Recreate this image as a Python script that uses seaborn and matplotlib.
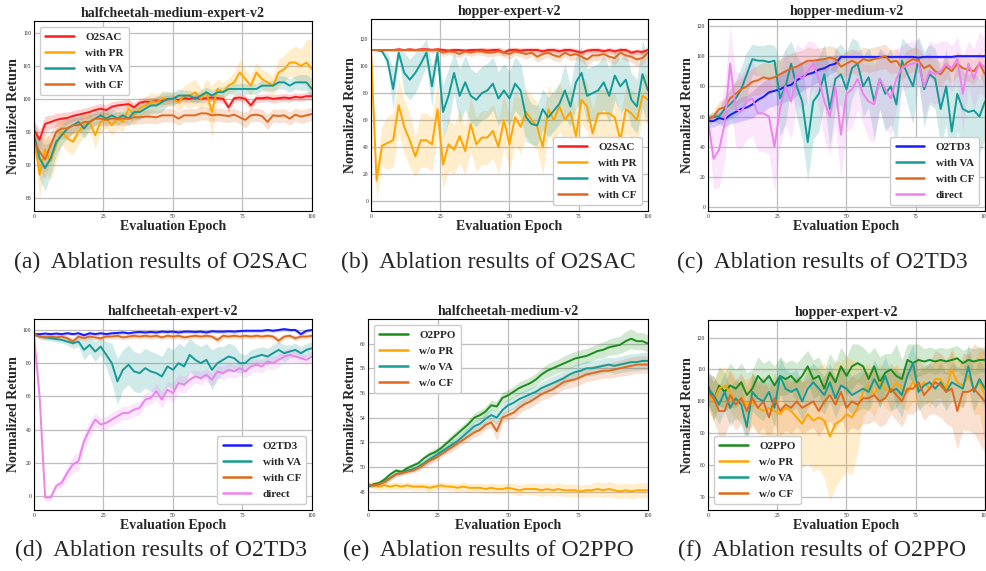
import numpy as np
import matplotlib
matplotlib.use("Agg")
import matplotlib.pyplot as plt
import seaborn as sns

# evaluation epochs (every 2nd epoch)
epochs = np.arange(0, 101, 2)

# ---------------- (a) halfcheetah-medium-expert-v2 ----------------
a_sac = [95.3, 93.8, 96.2, 96.5, 96.8, 97.0, 97.1, 97.4, 97.6, 97.8,
         98.0, 98.3, 98.5, 98.3, 98.8, 99.0, 99.1, 99.2, 98.7, 99.4,
         99.6, 99.5, 99.7, 99.8, 99.9, 100.0, 99.8, 100.1, 100.0, 100.2,
         100.0, 100.1, 100.2, 100.1, 100.0, 98.7, 100.1, 100.2, 100.0, 99.0,
         100.1, 100.1, 100.2, 100.0, 100.1, 100.2, 100.1, 100.3, 100.2, 100.4,
         100.4]
a_pr = [95.0, 88.5, 92.3, 90.5, 93.0, 95.0, 94.0, 93.5, 95.0, 96.0,
        96.5, 94.5, 96.5, 97.0, 96.0, 97.0, 96.5, 98.5, 97.5, 98.5,
        99.0, 99.5, 99.5, 100.0, 100.0, 100.0, 99.5, 100.5, 100.5, 101.0,
        100.0, 101.0, 98.0, 101.5, 101.0, 102.0, 102.5, 104.0, 103.0, 102.0,
        104.0, 103.0, 102.5, 102.0, 104.0, 104.5, 105.5, 105.5, 105.0, 105.5,
        104.5]
a_va = [94.5, 91.0, 89.5, 91.0, 93.5, 94.5, 95.5, 96.0, 96.5, 95.5,
        96.5, 97.0, 97.5, 97.0, 97.5, 97.0, 97.5, 97.0, 98.0, 98.0,
        98.5, 99.0, 99.0, 99.5, 100.0, 100.0, 100.5, 100.5, 100.5, 100.0,
        100.5, 101.0, 100.5, 101.0, 101.0, 101.5, 101.5, 101.5, 101.5, 101.5,
        101.5, 102.0, 102.0, 102.0, 102.5, 102.5, 102.0, 102.5, 102.5, 102.5,
        101.5]
a_cf = [93.5, 92.0, 90.8, 93.0, 95.0, 95.5, 95.5, 96.0, 96.0, 96.5,
        96.5, 97.0, 97.0, 96.8, 97.0, 97.0, 97.0, 97.0, 97.2, 97.2,
        97.3, 97.3, 97.2, 97.5, 97.5, 97.5, 97.0, 97.5, 97.5, 97.5,
        97.8, 97.8, 97.5, 97.6, 97.5, 97.4, 97.6, 97.2, 96.8, 97.5,
        97.6, 97.4, 96.5, 97.5, 97.4, 97.5, 97.0, 97.6, 97.3, 97.5,
        97.7]
a_sac_sd = [1.5, 1.5, 1.2, 1.0, 1.0, 0.9, 0.9, 0.8, 0.8, 0.8,
            0.8, 0.8, 0.8, 0.8, 0.8, 0.7, 0.7, 0.7, 0.7, 0.7,
            0.7, 0.7, 0.7, 0.7, 0.7, 0.6, 0.6, 0.6, 0.6, 0.6,
            0.6, 0.6, 0.6, 0.6, 0.6, 0.7, 0.6, 0.6, 0.6, 0.7,
            0.6, 0.6, 0.6, 0.6, 0.6, 0.6, 0.6, 0.6, 0.6, 0.6,
            0.6]
a_pr_sd = [1.5, 3.5, 3.0, 3.0, 2.5, 2.0, 2.0, 2.0, 1.8, 1.8,
           1.5, 2.0, 1.5, 1.5, 1.5, 1.5, 1.5, 1.5, 1.5, 1.2,
           1.2, 1.5, 1.2, 1.2, 1.2, 1.0, 1.5, 1.5, 2.0, 2.0,
           1.5, 2.0, 4.0, 1.5, 1.5, 1.2, 1.5, 2.0, 1.5, 1.5,
           1.5, 1.5, 1.5, 1.5, 2.0, 2.0, 2.0, 2.5, 2.5, 3.5,
           4.5]
a_va_sd = [2.0, 3.0, 3.5, 2.5, 2.0, 1.5, 1.5, 1.2, 1.2, 1.5,
           1.2, 1.0, 1.0, 1.0, 1.0, 1.0, 1.0, 1.0, 1.2, 1.2,
           1.2, 1.2, 1.2, 1.5, 1.0, 1.0, 1.0, 0.8, 0.8, 0.8,
           0.8, 0.8, 0.8, 0.8, 0.8, 0.8, 0.8, 0.8, 0.8, 0.8,
           0.8, 0.8, 0.8, 0.8, 1.0, 1.0, 1.0, 1.0, 1.2, 1.2,
           1.5]
a_cf_sd = [2.0, 2.5, 3.0, 2.0, 1.5, 1.5, 1.5, 1.2, 1.2, 1.2,
           1.0, 1.0, 1.0, 1.0, 1.0, 1.0, 1.0, 1.0, 1.0, 1.0,
           1.0, 1.0, 1.0, 1.0, 1.0, 1.0, 1.0, 1.0, 1.0, 1.0,
           1.0, 1.0, 1.0, 1.0, 1.0, 1.0, 1.0, 1.0, 1.2, 1.0,
           1.0, 1.0, 1.2, 1.0, 1.0, 1.0, 1.0, 1.0, 1.0, 1.0,
           1.0]

# ---------------- (b) hopper-expert-v2 ----------------
b_sac = [112, 112, 112, 112, 112, 112.5, 112, 112.5, 112, 112.5,
         112.5, 112, 112.5, 112, 111.5, 112, 112, 111.5, 112, 112,
         112, 111.5, 112, 112, 110, 112, 112, 111.5, 112, 112,
         112, 111, 112, 112, 111, 112, 112, 111, 110, 111.5,
         112, 112, 111, 112, 111, 112, 112, 110, 111, 110.5,
         112]
b_pr = [112, 15, 41, 43, 45, 71, 55, 45, 33, 45,
        45, 42, 68, 27, 42, 38, 48, 37, 57, 42,
        47, 47, 52, 40, 60, 42, 62, 55, 66, 60,
        55, 40, 68, 60, 70, 60, 66, 48, 75, 70,
        50, 65, 65, 65, 62, 45, 68, 65, 60, 78,
        75]
b_va = [112, 112, 111, 104, 83, 110, 95, 90, 95, 102,
        110, 85, 110, 66, 78, 95, 78, 88, 78, 75,
        80, 82, 87, 76, 82, 76, 87, 82, 62, 57,
        56, 68, 62, 67, 72, 82, 70, 88, 95, 78,
        80, 82, 88, 78, 93, 85, 90, 75, 70, 94,
        82]
b_cf = [112, 112, 112, 112, 112, 112, 112, 112, 112, 112,
        112, 112, 112, 110, 111, 110.5, 109, 111, 110, 111,
        111, 110, 110, 111, 110, 109, 111, 110, 109, 110,
        107, 109, 110, 108, 107, 110, 108, 109, 107, 105,
        108, 108, 109, 107, 106, 110, 108, 107, 105, 106,
        110]
b_sac_sd = [0.5, 0.5, 0.8, 1.0, 1.0, 1.0, 1.0, 1.2, 1.2, 1.2,
            1.5, 1.5, 1.5, 1.5, 1.5, 1.5, 1.5, 1.5, 1.5, 1.5,
            2.0, 2.0, 2.0, 2.0, 2.5, 2.0, 2.0, 2.0, 2.0, 2.0,
            2.0, 2.0, 2.0, 2.0, 2.0, 2.0, 2.0, 2.0, 2.0, 2.0,
            2.0, 2.0, 2.0, 2.0, 2.0, 2.0, 2.0, 2.0, 2.0, 2.0,
            2.0]
b_pr_sd = [0, 15, 15, 20, 20, 20, 20, 20, 15, 20,
           20, 20, 20, 18, 20, 18, 20, 18, 20, 20,
           20, 20, 20, 20, 20, 20, 20, 20, 18, 18,
           18, 20, 18, 18, 18, 18, 18, 18, 18, 18,
           18, 18, 18, 18, 18, 18, 18, 18, 18, 18,
           18]
b_va_sd = [0, 0.5, 1, 6, 15, 5, 15, 15, 15, 12,
           10, 15, 5, 20, 20, 15, 20, 20, 20, 20,
           20, 20, 20, 20, 20, 20, 20, 20, 18, 15,
           15, 15, 15, 15, 15, 20, 15, 20, 20, 20,
           20, 20, 20, 20, 18, 20, 20, 20, 20, 25,
           25]
b_cf_sd = [0.5, 0.5, 0.8, 1.0, 1.0, 1.0, 1.0, 1.2, 1.2, 1.2,
           1.5, 1.5, 1.5, 3.0, 2.5, 3.0, 3.0, 2.5, 3.0, 2.5,
           3, 3, 3, 3, 3, 4, 3, 3, 4, 3,
           4, 4, 3, 4, 4, 3, 4, 4, 4, 5,
           4, 4, 4, 4, 5, 4, 4, 4, 5, 5,
           4]

# ---------------- (c) hopper-medium-v2 ----------------
c_td3 = [57, 57, 59, 58, 61, 63, 65, 66, 68, 71,
         73, 76, 77, 78, 80, 81, 84, 86, 88, 89,
         91, 92, 94, 95, 99.5, 99.5, 99.5, 99.5, 99.5, 99.5,
         99.5, 99.5, 99.5, 99.5, 99.5, 99.5, 99.5, 99.5, 99.0, 99.5,
         99.5, 99.5, 99.5, 99.5, 99.5, 100, 100, 100, 100, 100,
         100]
c_va = [58, 60, 60, 65, 68, 72, 78, 88, 98, 97,
        97, 96, 97, 72, 80, 95, 80, 70, 43, 70,
        75, 88, 65, 85, 88, 78, 92, 95, 80, 86,
        70, 85, 75, 80, 68, 97, 88, 80, 98, 78,
        88, 85, 65, 80, 50, 75, 65, 63, 64, 60,
        70]
c_cf = [58, 60, 65, 66, 72, 75, 78, 80, 83, 84,
        86, 85, 86, 88, 90, 92, 93, 95, 97, 97,
        97.5, 98, 99, 98, 93, 95, 97, 95, 98, 97,
        98, 99, 100, 96, 97, 92, 96, 98, 97, 92,
        94, 90, 88, 93, 90, 95, 92, 91, 90, 95,
        88]
c_dir = [58, 32, 38, 55, 95, 65, 63, 70, 72, 62,
         62, 60, 40, 65, 80, 70, 88, 85, 90, 95,
         85, 70, 60, 80, 48, 75, 78, 85, 75, 70,
         68, 85, 78, 72, 85, 92, 94, 95, 96, 80,
         90, 88, 90, 95, 92, 98, 75, 95, 85, 96,
         92]
c_td3_sd = [4, 4, 4, 5, 6, 7, 8, 8, 9, 9,
            10, 10, 10, 10, 10, 10, 10, 9, 9, 8,
            8, 7, 6, 5, 1.5, 1.0, 1.0, 1.0, 1.0, 1.0,
            1, 1, 1, 1, 1, 1, 1, 1, 1, 1,
            1, 1, 1, 1, 1, 1, 1, 1, 1, 1,
            1]
c_va_sd = [3, 3, 5, 8, 10, 12, 15, 15, 10, 10,
           10, 12, 10, 25, 25, 15, 20, 25, 25, 25,
           25, 20, 25, 20, 20, 25, 20, 15, 20, 20,
           25, 20, 25, 25, 25, 15, 20, 25, 15, 25,
           20, 20, 25, 25, 30, 25, 25, 25, 25, 25,
           25]
c_cf_sd = [3, 4, 5, 6, 7, 8, 8, 9, 9, 10,
           10, 10, 10, 10, 10, 10, 10, 9, 9, 8,
           8, 8, 8, 8, 8, 8, 8, 8, 8, 8,
           8, 8, 8, 8, 8, 8, 8, 8, 8, 8,
           8, 8, 8, 8, 8, 8, 8, 8, 8, 8,
           8]
c_dir_sd = [5, 20, 25, 25, 25, 25, 25, 25, 25, 25,
            25, 25, 30, 25, 25, 25, 20, 20, 20, 15,
            20, 25, 25, 25, 30, 25, 25, 20, 20, 25,
            25, 20, 25, 25, 20, 15, 15, 15, 15, 20,
            20, 20, 20, 15, 15, 15, 25, 15, 20, 20,
            20]

# ---------------- (d) halfcheetah-expert-v2 ----------------
d_td3 = [97.5, 97.5, 97.8, 97.5, 97.8, 97.5, 98.0, 97.5, 98.0, 96.8,
         98.0, 97.5, 98.0, 97.5, 98.0, 98.2, 98.5, 98.0, 98.5, 98.8,
         98.5, 98.8, 98.5, 99.0, 98.8, 99.0, 98.5, 99.0, 99.0, 98.8,
         99.0, 98.5, 99.2, 99.0, 99.0, 99.2, 99.0, 99.3, 99.5, 99.5,
         99.5, 99.5, 100.0, 99.5, 100.0, 100.5, 100.0, 100.0, 97.5, 99.5,
         100.0]
d_va = [97.0, 96.0, 95.5, 95.0, 94.5, 94.0, 93.0, 92.0, 93.0, 88.0,
        91.0, 87.0, 90.0, 85.0, 80.0, 69.0, 76.0, 79.0, 75.0, 74.0,
        77.0, 75.0, 74.0, 72.0, 78.0, 76.0, 80.0, 78.0, 85.0, 82.0,
        80.0, 82.0, 76.0, 80.0, 82.0, 84.0, 83.0, 80.0, 80.0, 83.0,
        84.0, 85.0, 84.0, 86.0, 88.0, 86.0, 87.0, 88.0, 86.0, 88.0,
        89.0]
d_cf = [97.5, 96.0, 95.5, 96.0, 95.5, 96.0, 95.0, 93.0, 96.0, 95.0,
        96.0, 95.5, 95.0, 96.0, 96.0, 96.5, 95.5, 96.0, 96.5, 96.0,
        96.5, 96.0, 96.5, 95.5, 96.5, 96.0, 96.5, 95.5, 96.0, 96.5,
        96.0, 96.5, 96.0, 94.0, 96.5, 96.0, 96.5, 96.0, 96.5, 96.0,
        96.5, 96.0, 96.5, 96.0, 93.5, 96.0, 96.5, 95.0, 96.0, 96.0,
        96.5]
d_dir = [97.0, 60.0, -1.0, -1.0, 6.0, 8.0, 14.0, 19.0, 21.0, 33.0,
         40.0, 46.0, 43.0, 44.0, 46.0, 48.0, 50.0, 50.0, 52.0, 53.0,
         58.0, 59.0, 63.0, 58.0, 64.0, 62.0, 68.0, 67.0, 70.0, 72.0,
         71.0, 73.0, 70.0, 75.0, 74.0, 76.0, 75.0, 77.0, 75.0, 78.0,
         79.0, 78.0, 81.0, 80.0, 82.0, 84.0, 85.0, 84.0, 83.0, 82.0,
         84.0]
d_td3_sd = [0.5, 1.0, 1.0, 1.0, 1.0, 1.0, 1.0, 1.0, 1.0, 1.5,
            1.0, 1.0, 1.0, 1.0, 1.0, 1.0, 1.0, 1.0, 1.0, 1.0,
            1.0, 1.0, 1.0, 1.0, 1.0, 1.0, 1.0, 1.0, 1.0, 1.0,
            1.0, 1.0, 1.0, 1.0, 1.0, 1.0, 1.0, 1.0, 1.0, 1.0,
            1.0, 1.0, 1.0, 1.0, 1.0, 1.0, 1.0, 1.0, 1.5, 1.0,
            1.0]
d_va_sd = [0.5, 1.0, 1.5, 1.5, 2.0, 2.0, 2.0, 3.0, 3.0, 6.0,
           5.0, 6.0, 5.0, 8.0, 12.0, 14.0, 12.0, 12.0, 12.0, 12.0,
           12.0, 12.0, 12.0, 12.0, 12.0, 12.0, 12.0, 12.0, 10.0, 10.0,
           10.0, 10.0, 12.0, 10.0, 8.0, 8.0, 8.0, 6.0, 5.0, 5.0,
           5.0, 5.0, 5.0, 5.0, 5.0, 5.0, 4.0, 4.0, 4.0, 4.0,
           4.0]
d_cf_sd = [0.5, 1.5, 1.5, 1.5, 1.5, 1.5, 1.5, 2.0, 1.5, 1.5,
           1.5, 1.5, 1.5, 1.5, 1.5, 1.5, 1.5, 1.5, 1.5, 1.5,
           1.5, 1.5, 1.5, 1.5, 1.5, 1.5, 1.5, 1.5, 1.5, 1.5,
           1.5, 1.5, 1.5, 2.0, 1.5, 1.5, 1.5, 1.5, 1.5, 1.5,
           1.5, 1.5, 1.5, 1.5, 2.0, 1.5, 1.5, 1.5, 1.5, 1.5,
           1.5]
d_dir_sd = [1, 5, 2, 2, 2, 3, 4, 5, 6, 5,
            5, 4, 4, 4, 4, 4, 4, 4, 4, 4,
            4, 4, 5, 5, 5, 6, 5, 5, 5, 4,
            4, 4, 4, 4, 4, 4, 4, 4, 4, 4,
            4, 4, 4, 4, 4, 4, 4, 4, 3, 3,
            3]

# ---------------- (e) halfcheetah-medium-v2 ----------------
e_ppo = [48.4, 48.6, 48.7, 49.0, 49.4, 49.7, 49.6, 49.9, 50.1, 50.3,
         50.7, 51.0, 51.2, 51.5, 51.9, 52.3, 52.7, 53.1, 53.5, 54.0,
         54.2, 54.5, 55.0, 54.9, 55.6, 55.8, 56.1, 56.4, 56.6, 56.8,
         57.1, 57.5, 57.8, 58.0, 58.2, 58.4, 58.6, 58.8, 58.9, 59.0,
         59.2, 59.4, 59.5, 59.7, 59.8, 59.9, 60.2, 60.4, 60.2, 60.2,
         60.0]
e_pr = [48.6, 48.5, 48.4, 48.5, 48.4, 48.5, 48.4, 48.5, 48.4, 48.4,
        48.4, 48.3, 48.4, 48.5, 48.4, 48.4, 48.3, 48.4, 48.3, 48.3,
        48.3, 48.2, 48.3, 48.2, 48.2, 48.3, 48.2, 48.1, 48.2, 48.2,
        48.2, 48.1, 48.2, 48.1, 48.2, 48.1, 48.1, 48.1, 48.0, 48.1,
        48.1, 48.2, 48.1, 48.2, 48.1, 48.0, 48.1, 48.0, 48.1, 48.1,
        48.1]
e_va = [48.5, 48.5, 48.6, 48.8, 49.1, 49.4, 49.5, 49.7, 49.8, 50.0,
        50.3, 50.6, 50.9, 51.2, 51.5, 51.8, 52.1, 52.5, 52.9, 53.3,
        53.5, 53.9, 54.2, 54.0, 54.6, 55.0, 55.2, 55.5, 55.7, 55.9,
        56.1, 56.4, 56.6, 56.8, 57.0, 57.2, 57.5, 57.7, 57.8, 58.0,
        58.0, 58.1, 58.2, 58.3, 58.2, 58.3, 58.4, 58.5, 58.5, 58.6,
        58.6]
e_cf = [48.5, 48.5, 48.6, 48.8, 49.1, 49.4, 49.5, 49.6, 49.7, 49.9,
        50.2, 50.5, 50.7, 51.0, 51.3, 51.6, 51.9, 52.2, 52.5, 52.8,
        53.0, 53.4, 53.6, 52.9, 54.0, 54.2, 54.4, 54.8, 55.1, 55.3,
        55.6, 55.9, 56.1, 56.3, 56.6, 56.9, 57.0, 57.1, 57.3, 57.5,
        57.6, 57.7, 57.8, 57.8, 57.9, 58.0, 58.1, 58.2, 58.3, 58.3,
        58.3]
e_ppo_sd = [0.1, 0.15, 0.2, 0.2, 0.2, 0.2, 0.2, 0.2, 0.2, 0.25,
            0.25, 0.3, 0.3, 0.3, 0.3, 0.35, 0.35, 0.35, 0.4, 0.4,
            0.4, 0.4, 0.4, 0.4, 0.45, 0.45, 0.45, 0.5, 0.5, 0.5,
            0.5, 0.5, 0.55, 0.55, 0.55, 0.6, 0.6, 0.6, 0.6, 0.6,
            0.6, 0.6, 0.65, 0.65, 0.7, 0.7, 0.8, 0.8, 0.7, 0.7,
            0.7]
e_pr_sd = [0.2, 0.3, 0.3, 0.3, 0.3, 0.3, 0.3, 0.3, 0.3, 0.3,
           0.3, 0.3, 0.3, 0.3, 0.3, 0.3, 0.35, 0.35, 0.35, 0.35,
           0.4, 0.4, 0.4, 0.4, 0.4, 0.4, 0.45, 0.45, 0.45, 0.45,
           0.5, 0.5, 0.5, 0.5, 0.5, 0.5, 0.5, 0.5, 0.5, 0.5,
           0.5, 0.6, 0.6, 0.6, 0.6, 0.6, 0.6, 0.6, 0.6, 0.6,
           0.6]
e_va_sd = [0.1, 0.15, 0.2, 0.2, 0.2, 0.2, 0.2, 0.2, 0.2, 0.25,
           0.25, 0.3, 0.3, 0.3, 0.3, 0.35, 0.35, 0.4, 0.4, 0.45,
           0.45, 0.5, 0.5, 0.5, 0.5, 0.5, 0.5, 0.5, 0.5, 0.5,
           0.5, 0.5, 0.55, 0.55, 0.55, 0.6, 0.6, 0.6, 0.6, 0.6,
           0.6, 0.6, 0.6, 0.6, 0.65, 0.65, 0.7, 0.7, 0.7, 0.7,
           0.7]
e_cf_sd = [0.1, 0.15, 0.2, 0.2, 0.2, 0.2, 0.2, 0.2, 0.2, 0.25,
           0.25, 0.3, 0.3, 0.3, 0.3, 0.35, 0.35, 0.35, 0.4, 0.4,
           0.4, 0.4, 0.4, 0.8, 0.45, 0.45, 0.45, 0.5, 0.5, 0.5,
           0.5, 0.5, 0.55, 0.55, 0.55, 0.6, 0.6, 0.6, 0.6, 0.6,
           0.6, 0.6, 0.6, 0.6, 0.65, 0.65, 0.7, 0.7, 0.7, 0.7,
           0.7]

# ---------------- (f) hopper-expert-v2 ----------------
f_ppo = [105, 100, 105, 103, 105, 104, 106, 102, 104, 108,
         106, 108, 105, 108, 107, 108, 106, 108, 111, 107,
         108, 104, 109, 106, 111, 108, 111, 112, 111, 107,
         111, 106, 109, 110, 108, 107, 113, 112, 113, 112.5,
         113, 112.5, 113, 112.5, 113, 113.5, 112, 113, 112.5, 113,
         113]
f_pr = [103, 100, 104, 105, 103, 100, 101, 99, 100, 98,
        97, 98, 97, 96, 98, 97, 95, 93, 96, 94,
        95, 94, 89, 93, 94, 96, 95, 98, 103, 105,
        102, 106, 104, 103, 106, 104, 103, 106, 104, 106,
        104, 107, 107, 104, 110, 106, 105, 108, 104, 106,
        102]
f_va = [104, 102, 99, 103, 98, 101, 99, 92, 103, 101,
        100, 103, 98, 108, 104, 103, 104, 100, 104, 106,
        104, 102, 106, 101, 105, 104, 102, 103, 104, 103,
        107, 104, 108, 103, 104, 102, 108, 112, 103, 105,
        106, 104, 106, 103, 106, 105, 104, 111, 103, 107,
        104]
f_cf = [103, 101, 97, 97, 102, 99, 101, 97, 101, 98,
        100, 95, 101, 97, 99, 98, 100, 98, 99, 100,
        97, 100, 102, 99, 103, 98, 100, 99, 101, 101,
        102, 100, 101, 104, 102, 100, 104, 104, 106, 102,
        104, 106, 105, 103, 104, 97, 103, 103, 104, 102,
        100]
f_ppo_sd = [5, 6, 6, 6, 7, 6, 6, 7, 6, 6,
            6, 5, 6, 6, 5, 5, 6, 6, 5, 6,
            6, 6, 6, 6, 6, 6, 7, 6, 6, 8,
            6, 8, 6, 5, 10, 6, 5, 6, 5, 4,
            4, 4, 4, 4, 4, 4, 4, 4, 4, 4,
            4]
f_pr_sd = [5, 6, 6, 6, 6, 6, 6, 8, 8, 8,
           8, 8, 8, 10, 10, 10, 12, 14, 15, 16,
           16, 18, 20, 20, 18, 18, 18, 14, 8, 7,
           7, 6, 6, 6, 6, 6, 6, 6, 6, 6,
           6, 6, 6, 6, 7, 7, 7, 7, 8, 10,
           15]
f_va_sd = [5, 6, 6, 6, 6, 6, 6, 6, 6, 6,
           6, 6, 6, 6, 6, 6, 6, 6, 6, 6,
           6, 6, 6, 6, 6, 6, 6, 6, 6, 6,
           6, 6, 6, 6, 6, 7, 6, 6, 6, 6,
           6, 6, 6, 6, 6, 6, 6, 7, 6, 6,
           6]
f_cf_sd = [5, 7, 8, 8, 8, 8, 8, 8, 8, 8,
           8, 8, 8, 8, 8, 8, 8, 8, 8, 8,
           8, 8, 8, 8, 8, 8, 8, 8, 8, 8,
           8, 8, 8, 8, 8, 8, 8, 8, 8, 8,
           8, 10, 10, 10, 12, 12, 12, 12, 14, 15,
           16]

RED, ORANGE, TEAL, CHOC = "#ff1a1a", "#ffa500", "#159a96", "#e0691d"
BLUE, VIOLET, GREEN = "#1a1aff", "#ee82ee", "#1c8c1c"

titles = ["halfcheetah-medium-expert-v2", "hopper-expert-v2", "hopper-medium-v2",
          "halfcheetah-expert-v2", "halfcheetah-medium-v2", "hopper-expert-v2"]
captions = ["(a)  Ablation results of O2SAC", "(b)  Ablation results of O2SAC",
            "(c)  Ablation results of O2TD3", "(d)  Ablation results of O2TD3",
            "(e)  Ablation results of O2PPO", "(f)  Ablation results of O2PPO"]

panels = [
    [("O2SAC", a_sac, a_sac_sd, RED), ("with PR", a_pr, a_pr_sd, ORANGE),
     ("with VA", a_va, a_va_sd, TEAL), ("with CF", a_cf, a_cf_sd, CHOC)],
    [("O2SAC", b_sac, b_sac_sd, RED), ("with PR", b_pr, b_pr_sd, ORANGE),
     ("with VA", b_va, b_va_sd, TEAL), ("with CF", b_cf, b_cf_sd, CHOC)],
    [("O2TD3", c_td3, c_td3_sd, BLUE), ("with VA", c_va, c_va_sd, TEAL),
     ("with CF", c_cf, c_cf_sd, CHOC), ("direct", c_dir, c_dir_sd, VIOLET)],
    [("O2TD3", d_td3, d_td3_sd, BLUE), ("with VA", d_va, d_va_sd, TEAL),
     ("with CF", d_cf, d_cf_sd, CHOC), ("direct", d_dir, d_dir_sd, VIOLET)],
    [("O2PPO", e_ppo, e_ppo_sd, GREEN), ("w/o PR", e_pr, e_pr_sd, ORANGE),
     ("w/o VA", e_va, e_va_sd, TEAL), ("w/o CF", e_cf, e_cf_sd, CHOC)],
    [("O2PPO", f_ppo, f_ppo_sd, GREEN), ("w/o PR", f_pr, f_pr_sd, ORANGE),
     ("w/o VA", f_va, f_va_sd, TEAL), ("w/o CF", f_cf, f_cf_sd, CHOC)],
]
ylims = [(83, 111.8), (-7.5, 135), (-2.6, 124.6), (-8.5, 106.6), (46.5, 62), (66, 125.5)]
yticks = [np.arange(85, 111, 5), np.arange(0, 121, 20), np.arange(0, 121, 20),
          np.arange(0, 101, 20), np.arange(48, 61, 2), np.arange(70, 121, 10)]
legend_loc = ["upper left", "lower right", "lower right", "lower right", "upper left", "lower left"]

sns.set_style("whitegrid", {"axes.edgecolor": "black", "grid.color": "#bdbdbd",
                            "axes.linewidth": 1.0})
plt.rcParams["font.family"] = ["Liberation Serif", "DejaVu Serif"]

W, H = 987, 571
fig = plt.figure(figsize=(W / 100, H / 100), dpi=100)
# axes boxes in pixels: left, top, right, bottom
boxes = [(34, 21, 312, 211), (371, 19, 648, 211), (708, 19, 985, 211),
         (34, 319, 312, 510), (368, 319, 648, 510), (708, 320, 985, 510)]
cap_pos = [(161, 262), (488, 262), (822, 262), (161, 550), (488, 550), (822, 550)]

for i, (l, t, r, b) in enumerate(boxes):
    ax = fig.add_axes([l / W, 1 - b / H, (r - l) / W, (b - t) / H])
    for lab, vals, sd, col in panels[i]:
        vals = np.array(vals, dtype=float)
        sd = np.array(sd, dtype=float)
        ax.fill_between(epochs, vals - sd, vals + sd, color=col, alpha=0.2, linewidth=0)
        sns.lineplot(x=epochs, y=vals, ax=ax, color=col, label=lab, linewidth=1.4)
    ax.set_xlim(0, 100)
    ax.set_ylim(*ylims[i])
    ax.set_xticks([0, 25, 50, 75, 100])
    ax.set_yticks(yticks[i])
    ax.tick_params(labelsize=4, length=0, pad=2)
    ax.grid(True, linewidth=0.9)
    ax.set_title(titles[i], fontsize=10, fontweight="bold", pad=3)
    ax.set_xlabel("Evaluation Epoch", fontsize=10, fontweight="bold", labelpad=1)
    ax.set_ylabel("Normalized Return", fontsize=10, fontweight="bold", labelpad=2)
    for s in ax.spines.values():
        s.set_color("black")
    leg = ax.legend(loc=legend_loc[i], prop={"weight": "bold", "size": 8},
                    handlelength=2.6, framealpha=1, edgecolor="#cccccc", borderpad=0.5,
                    labelspacing=0.55, handletextpad=1.0)
    for h in leg.get_lines():
        h.set_linewidth(1.8)
    fig.text(cap_pos[i][0] / W, 1 - cap_pos[i][1] / H, captions[i],
             fontsize=17, ha="center", va="center")

fig.savefig("out.png", dpi=100)
